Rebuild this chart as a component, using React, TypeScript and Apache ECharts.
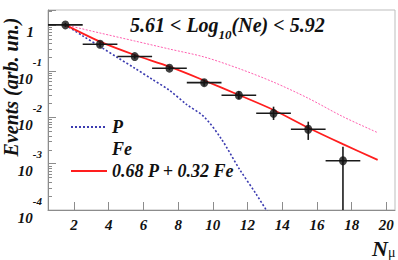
import React, { useEffect, useRef } from 'react';
import * as echarts from 'echarts';

// Measured distribution (black points with error bars)
const binCenters = [1.5, 3.5, 5.5, 7.5, 9.5, 11.5, 13.5, 15.5, 17.5];
const binHalfWidth = [1, 1, 1, 1, 1, 1, 1, 1, 1];
const events = [1.0, 0.382, 0.207, 0.116, 0.0565, 0.0302, 0.0123, 0.00556, 0.00116];
const eventsLow = [0.905, 0.346, 0.187, 0.105, 0.0487, 0.0248, 0.00883, 0.00327, 0.0001];
const eventsHigh = [1.105, 0.422, 0.229, 0.128, 0.0655, 0.0368, 0.0171, 0.0081, 0.00234];

// Proton (P) expectation
const protonX = [1.5, 2.5, 3.5, 4.5, 5.5, 6.5, 7.5, 8.5, 9.5, 10.5, 11.5, 12.5, 13.5];
const protonVals = [1, 0.58, 0.34, 0.198, 0.116, 0.067, 0.0385, 0.019, 0.0103, 0.0034, 0.0008, 0.00022, 0.000056];

// Iron (Fe) and mixture expectations
const modelX = [1.5, 3.5, 5.5, 7.5, 9.5, 11.5, 13.5, 15.5, 17.5, 19.5];
const ironVals = [1, 0.668, 0.449, 0.301, 0.203, 0.114, 0.058, 0.026, 0.0104, 0.0047];
const mixVals = [1, 0.435, 0.224, 0.125, 0.063, 0.0306, 0.0145, 0.006, 0.00265, 0.00121];

const xTicks = [2, 4, 6, 8, 10, 12, 14, 16, 18, 20];

const seriesNames = ['P', 'Fe', '0.68 P + 0.32 Fe'];
const titleParts = ['5.61 < Log', '10', '(Ne) < 5.92'];
const yTitle = 'Events (arb. un.)';
const xTitleParts = ['N', 'μ'];

const FONT = 'Times New Roman';

export default function App() {
  const ref = useRef<HTMLDivElement>(null);
  useEffect(() => {
    if (!ref.current) return;
    const chart = echarts.init(ref.current, null, { renderer: 'svg' });
    const measured = binCenters.map((x, i) => [x, events[i], eventsLow[i], eventsHigh[i], binHalfWidth[i]]);
    const option: any = {
      animation: false,
      backgroundColor: '#fff',
      textStyle: { fontFamily: FONT },
      title: {
        text: `{a|${titleParts[0]}}{sub|${titleParts[1]}}{a|${titleParts[2]}}`,
        left: 130,
        top: 15,
        padding: 0,
        textStyle: {
          fontFamily: FONT,
          rich: {
            a: { fontFamily: FONT, fontStyle: 'italic', fontWeight: 'bold', fontSize: 20, lineHeight: 26, verticalAlign: 'top', color: '#111' },
            sub: { fontFamily: FONT, fontStyle: 'italic', fontWeight: 'bold', fontSize: 13, lineHeight: 12, verticalAlign: 'bottom', color: '#111' },
          },
        },
      },
      legend: {
        orient: 'vertical',
        left: 65,
        top: 113,
        itemWidth: 36,
        itemHeight: 14,
        itemGap: 4,
        selectedMode: false,
        itemStyle: { opacity: 0 },
        textStyle: { fontFamily: FONT, fontStyle: 'italic', fontWeight: 'bold', fontSize: 18, lineHeight: 18, color: '#111' },
        data: [
          { name: seriesNames[0] },
          { name: seriesNames[1], lineStyle: { opacity: 0 }, itemStyle: { opacity: 0 } },
          { name: seriesNames[2] },
        ],
      },
      grid: { left: 48, right: 3, top: 10, bottom: 50, show: true, borderColor: '#bdbdbd', borderWidth: 1 },
      xAxis: {
        type: 'value',
        min: 0.5,
        max: 20.5,
        axisLine: { lineStyle: { color: '#8c8c8c', width: 1 } },
        axisTick: { inside: true, length: 8, customValues: xTicks, lineStyle: { color: '#8c8c8c' } },
        axisLabel: {
          customValues: xTicks,
          margin: 7,
          fontFamily: FONT, fontStyle: 'italic', fontWeight: 'bold', fontSize: 15, color: '#111',
        },
        splitLine: { show: false },
      },
      yAxis: {
        type: 'log',
        logBase: 10,
        min: 0.0001,
        max: 2.1,
        axisLine: { show: true, lineStyle: { color: '#8c8c8c', width: 1 } },
        axisTick: { show: true, inside: true, length: 8, lineStyle: { color: '#8c8c8c' } },
        minorTick: { show: true, splitNumber: 9, length: 4, lineStyle: { color: '#8c8c8c' } },
        splitLine: { show: false },
        minorSplitLine: { show: false },
        axisLabel: {
          margin: 6,
          showMaxLabel: false,
          fontFamily: FONT,
          formatter: (v: number) => {
            const e = Math.round(Math.log10(v));
            if (e === 0) return '{b|1}{pad| }';
            return `{b|10}{s|${e}}`;
          },
          rich: {
            b: { fontFamily: FONT, fontStyle: 'italic', fontWeight: 'bold', fontSize: 15, lineHeight: 30, verticalAlign: 'bottom', color: '#111' },
            s: { fontFamily: FONT, fontStyle: 'italic', fontWeight: 'bold', fontSize: 11, lineHeight: 6, verticalAlign: 'top', color: '#111' },
            pad: { width: 8, fontSize: 10, lineHeight: 6 },
          },
        },
      },
      graphic: [
        {
          type: 'text',
          x: 11,
          y: 87,
          rotation: Math.PI / 2,
          style: {
            text: yTitle,
            fontFamily: FONT, fontStyle: 'italic', fontWeight: 'bold', fontSize: 20,
            fill: '#111',
            align: 'center', verticalAlign: 'middle',
          },
        },
        {
          type: 'text',
          x: 372,
          y: 237,
          style: {
            text: `{n|${xTitleParts[0]}}{s|${xTitleParts[1]}}`,
            fontFamily: FONT,
            rich: {
              n: { fontFamily: FONT, fontStyle: 'italic', fontWeight: 'bold', fontSize: 22, lineHeight: 22, verticalAlign: 'top', fill: '#111', color: '#111' },
              s: { fontFamily: FONT, fontSize: 14, lineHeight: 10, verticalAlign: 'bottom', fill: '#111', color: '#111' },
            },
          },
        },
      ],
      series: [
        {
          name: seriesNames[1],
          type: 'line',
          data: modelX.map((x, i) => [x, ironVals[i]]),
          symbol: 'none',
          smooth: 0.3,
          lineStyle: { color: '#ff5fb0', width: 1, type: [2, 1.5] },
          itemStyle: { color: '#ff5fb0' },
          z: 2,
        },
        {
          name: seriesNames[0],
          type: 'line',
          data: protonX.map((x, i) => [x, protonVals[i]]),
          symbol: 'none',
          smooth: 0.3,
          lineStyle: { color: '#3b3bb0', width: 1.6, type: [2, 2] },
          itemStyle: { color: '#3b3bb0' },
          z: 2,
        },
        {
          name: seriesNames[2],
          type: 'line',
          data: modelX.map((x, i) => [x, mixVals[i]]),
          symbol: 'none',
          smooth: 0.3,
          lineStyle: { color: '#ff1e1e', width: 1.8 },
          itemStyle: { color: '#ff1e1e' },
          z: 3,
        },
        {
          name: 'data',
          type: 'custom',
          clip: true,
          data: measured,
          encode: { x: 0, y: 1 },
          z: 4,
          renderItem: (params: any, api: any) => {
            const x = api.value(0);
            const y = api.value(1);
            const lo = api.value(2);
            const hi = api.value(3);
            const hw = api.value(4);
            const pL = api.coord([x - hw, y]);
            const pR = api.coord([x + hw, y]);
            const pT = api.coord([x, hi]);
            const pB = api.coord([x, lo]);
            const st = { stroke: '#1a1a1a', lineWidth: 1.6 };
            return {
              type: 'group',
              children: [
                { type: 'line', shape: { x1: pL[0], y1: pL[1], x2: pR[0], y2: pR[1] }, style: st },
                { type: 'line', shape: { x1: pT[0], y1: pT[1], x2: pB[0], y2: pB[1] }, style: st },
              ],
            };
          },
        },
        {
          name: 'points',
          type: 'scatter',
          data: binCenters.map((x, i) => [x, events[i]]),
          symbol: 'circle',
          symbolSize: [8, 9],
          itemStyle: { color: '#111' },
          z: 5,
        },
      ],
    };
    chart.setOption(option);
    return () => chart.dispose();
  }, []);
  return <div ref={ref} style={{ width: 398, height: 260, position: 'absolute', left: 0, top: 0 }} />;
}
